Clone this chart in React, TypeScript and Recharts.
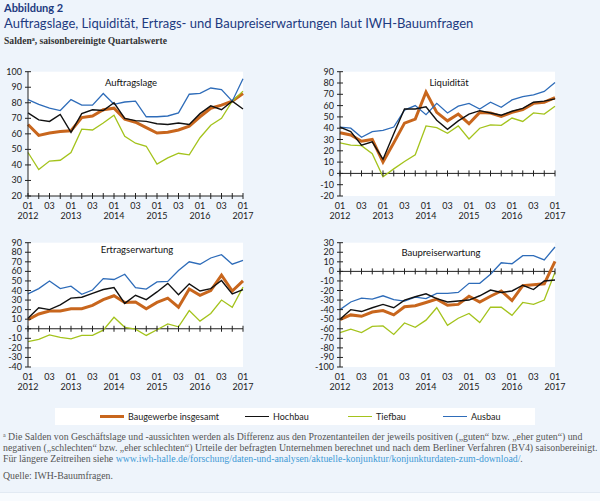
import React from 'react';
import {
  LineChart,
  Line,
  XAxis,
  YAxis,
  CartesianGrid,
  ReferenceLine,
  ReferenceDot,
} from 'recharts';

// Quartale 2012 Q1 bis 2017 Q1
const quarters = [
  '2012-1', '2012-2', '2012-3', '2012-4',
  '2013-1', '2013-2', '2013-3', '2013-4',
  '2014-1', '2014-2', '2014-3', '2014-4',
  '2015-1', '2015-2', '2015-3', '2015-4',
  '2016-1', '2016-2', '2016-3', '2016-4',
  '2017-1',
];

// Auftragslage
const auftragBau = [66, 59, 60.5, 61.5, 62, 70.5, 71.5, 75.5, 76.5, 69.5, 67.5, 64, 60.5, 61, 62.5, 65, 71, 76.5, 78.5, 81, 86];
const auftragHoch = [73.5, 69, 68, 72.5, 61, 73, 75.5, 75, 80, 70, 68.5, 68, 66.5, 66, 67, 66, 73, 78, 75.5, 81, 76];
const auftragTief = [48, 37, 42.5, 43, 48, 63, 62.5, 67, 72, 58.5, 54, 52, 40.5, 44.5, 47.5, 46.5, 57.5, 65.5, 70, 81, 87.5];
const auftragAus = [82, 79, 76.5, 75, 82, 78.5, 78.5, 86, 79, 80.5, 81, 71, 71, 71.5, 73.5, 85.5, 86, 89.5, 88.5, 81, 95.5];

// Liquidität
const liquiBau = [36, 34, 28.5, 30, 10, 27, 44.5, 48, 72, 54, 46.5, 52.5, 44, 54, 53.5, 50.5, 54, 56.5, 62, 63, 67];
const liquiHoch = [41, 37, 25, 28, 12.5, 35, 57, 57, 59, 47, 39, 46.5, 52.5, 55.5, 53.5, 51.5, 55, 57.5, 63, 64, 66];
const liquiTief = [27, 25, 24.5, 17.5, -3, 4, 10.5, 16.5, 42, 40.5, 35.5, 42, 30.5, 40, 43, 42.5, 49, 46, 53.5, 52.5, 59.5];
const liquiAus = [41, 40, 32, 37, 38, 41, 56, 60, 52, 62, 53.5, 59.5, 62, 57, 63, 58.5, 65, 68, 69.5, 72.5, 80.5];

// Ertragserwartung
const ertragBau = [9.5, 15.5, 18.5, 18.5, 21, 21, 24.5, 30.5, 34.5, 27.5, 28, 21, 27.5, 32, 22.5, 41.5, 35, 40, 56, 39.5, 50];
const ertragHoch = [11, 22, 20, 25, 32, 33, 37, 41, 43, 26.5, 35, 30.5, 38.5, 47.5, 35.5, 47, 39.5, 42, 50.5, 36.5, 41];
const ertragTief = [-13.5, -11, -6.5, -9, -10.5, -7, -7, -1.5, 12, 1.5, -0.5, -7, -1, 5, 2, 19, 8, 16, 30, 22.5, 43.5];
const ertragAus = [36.5, 42, 50, 42, 44.5, 36, 40.5, 52.5, 51.5, 57, 43, 41.5, 49, 49.5, 61, 70, 67.5, 74, 77.5, 67.5, 71.5];

// Baupreiserwartung
const preisBau = [-50.5, -45.5, -47, -42.5, -41, -45.5, -37, -36, -32.5, -29, -35.5, -34.5, -26, -32, -26, -20.5, -30.5, -15, -14, -13, 10.5];
const preisHoch = [-50, -40, -42, -38, -34.5, -38, -30, -26.5, -23.5, -28.5, -32, -31, -30, -25.5, -19.5, -22, -20.5, -14.5, -19, -10, -9];
const preisTief = [-64, -60.5, -64, -57.5, -57, -66, -54, -58.5, -51, -38, -56.5, -49, -44, -53.5, -37.5, -37.5, -46, -32.5, -34.5, -30, -1];
const preisAus = [-40, -32, -28, -29, -25.5, -29.5, -31, -27, -28.5, -23, -23, -22, -12.5, -12.5, -3, 9, 8, 16.5, 16.5, 12, 25.5];

const auftragTicks = [20, 30, 40, 50, 60, 70, 80, 90, 100];
const liquiTicks = [-20, -10, 0, 10, 20, 30, 40, 50, 60, 70, 80, 90];
const ertragTicks = [-40, -30, -20, -10, 0, 10, 20, 30, 40, 50, 60, 70, 80, 90];
const preisTicks = [-100, -90, -80, -70, -60, -50, -40, -30, -20, -10, 0, 10, 20, 30];

const seriesNames = ['Baugewerbe insgesamt', 'Hochbau', 'Tiefbau', 'Ausbau'];

const ORANGE = '#C8661D';
const BLACK = '#111111';
const GREEN = '#A4C31C';
const BLUE = '#2E6CB9';
const AXIS = '#222222';
const NAVY = '#1D3A80';
const SANS = 'Lato, "DejaVu Sans", sans-serif';
const SERIF = '"Liberation Serif", "DejaVu Serif", serif';

function YTick({ x, y, payload }: any) {
  return (
    <g>
      <line x1={x - 3} x2={x + 3} y1={y} y2={y} stroke={AXIS} strokeWidth={1} />
      <text x={x - 6} y={y} dy={3} textAnchor="end" fontSize={9} fill={AXIS} fontFamily={SANS}>
        {payload.value}
      </text>
    </g>
  );
}

function XTick({ x, y, payload }: any) {
  const [year, q] = String(payload.value).split('-');
  if (q === '2' || q === '4') return <g />;
  return (
    <g fontFamily={SANS} fontSize={9} fill={AXIS}>
      <text x={x} y={y + 13} textAnchor="middle">{q === '1' ? '01' : '03'}</text>
      {q === '1' && <text x={x} y={y + 23} textAnchor="middle">{year}</text>}
    </g>
  );
}

function TickMark(props: any) {
  const { cx, cy } = props;
  return <line x1={cx} x2={cx} y1={cy - 3} y2={cy + 3} stroke={AXIS} strokeWidth={1} />;
}

interface PanelProps {
  title: string;
  bau: number[];
  hoch: number[];
  tief: number[];
  aus: number[];
  ticks: number[];
  base: number;
  left: number;
  top: number;
  yWidth: number;
  titleX: number;
  titleY: number;
}

function Panel({ title, bau, hoch, tief, aus, ticks, base, left, top, yWidth, titleX, titleY }: PanelProps) {
  const data = quarters.map((q, i) => ({ q, bau: bau[i], hoch: hoch[i], tief: tief[i], aus: aus[i] }));
  const width = yWidth + 215 + 15;
  return (
    <>
      <div style={{ position: 'absolute', left, top, width, height: 170 }}>
        <LineChart width={width} height={170} data={data} margin={{ top: 11.7, right: 15, bottom: 0, left: 0 }}>
          <CartesianGrid horizontal={false} vertical={false} fill="#ffffff" />
          <XAxis
            dataKey="q"
            interval={0}
            height={34}
            axisLine={false}
            tickLine={false}
            tickSize={0}
            tickMargin={0}
            tick={<XTick />}
          />
          <YAxis
            width={yWidth}
            domain={[ticks[0], ticks[ticks.length - 1]]}
            ticks={ticks}
            interval={0}
            axisLine={{ stroke: AXIS, strokeWidth: 1 }}
            tickLine={false}
            tickSize={0}
            tickMargin={0}
            tick={<YTick />}
          />
          <ReferenceLine y={base} stroke={AXIS} strokeWidth={1} />
          {quarters.map((q) => (
            <ReferenceDot key={q} x={q} y={base} r={0} shape={<TickMark />} />
          ))}
          <Line dataKey="bau" name={seriesNames[0]} stroke={ORANGE} strokeWidth={3} dot={false} isAnimationActive={false} />
          <Line dataKey="tief" name={seriesNames[2]} stroke={GREEN} strokeWidth={1.3} dot={false} isAnimationActive={false} />
          <Line dataKey="aus" name={seriesNames[3]} stroke={BLUE} strokeWidth={1.3} dot={false} isAnimationActive={false} />
          <Line dataKey="hoch" name={seriesNames[1]} stroke={BLACK} strokeWidth={1.4} dot={false} isAnimationActive={false} />
        </LineChart>
      </div>
      <div
        style={{
          position: 'absolute',
          left: titleX - 60,
          top: titleY - 7,
          width: 120,
          textAlign: 'center',
          fontFamily: SANS,
          fontSize: 9.5,
          color: '#111',
          lineHeight: '14px',
        }}
      >
        {title}
      </div>
    </>
  );
}

function LegendItem({ color, label, left, thick }: { color: string; label: string; left: number; thick?: boolean }) {
  return (
    <div style={{ position: 'absolute', left, top: 0, height: 17, display: 'flex', alignItems: 'center' }}>
      <span style={{ display: 'inline-block', width: 24, height: thick ? 3 : 1.3, background: color, marginRight: 4 }} />
      <span style={{ fontFamily: SANS, fontSize: 9, color: '#222' }}>{label}</span>
    </div>
  );
}

const footStyle: React.CSSProperties = {
  position: 'absolute',
  left: 3,
  fontFamily: SERIF,
  fontSize: 9.8,
  color: '#555',
  whiteSpace: 'nowrap',
  lineHeight: '11px',
  height: 11,
};

const supStyle: React.CSSProperties = { fontSize: 6, position: 'relative', top: -3 };

export default function App() {
  return (
    <div style={{ position: 'absolute', left: 0, top: 0, width: 600, height: 501, background: '#EEF4FB', overflow: 'hidden' }}>
      <div style={{ position: 'absolute', left: 4, top: 1, fontFamily: SANS, fontWeight: 700, fontSize: 11, color: NAVY }}>
        Abbildung 2
      </div>
      <div style={{ position: 'absolute', left: 4, top: 15, fontFamily: SANS, fontSize: 13, color: NAVY, whiteSpace: 'nowrap' }}>
        Auftragslage, Liquidität, Ertrags- und Baupreiserwartungen laut IWH-Bauumfragen
      </div>
      <div style={{ position: 'absolute', left: 4, top: 35, fontFamily: SERIF, fontSize: 9.6, fontWeight: 700, color: '#333', whiteSpace: 'nowrap', lineHeight: '12px' }}>
        Salden<span style={supStyle}>a</span>, saisonbereinigte Quartalswerte
      </div>

      <Panel title="Auftragslage" bau={auftragBau} hoch={auftragHoch} tief={auftragTief} aus={auftragAus}
        ticks={auftragTicks} base={20} left={0} top={60} yWidth={28} titleX={131} titleY={83} />
      <Panel title="Liquidität" bau={liquiBau} hoch={liquiHoch} tief={liquiTief} aus={liquiAus}
        ticks={liquiTicks} base={0} left={300} top={60} yWidth={40} titleX={449} titleY={83} />
      <Panel title="Ertragserwartung" bau={ertragBau} hoch={ertragHoch} tief={ertragTief} aus={ertragAus}
        ticks={ertragTicks} base={0} left={0} top={230.6} yWidth={28} titleX={137} titleY={250} />
      <Panel title="Baupreiserwartung" bau={preisBau} hoch={preisHoch} tief={preisTief} aus={preisAus}
        ticks={preisTicks} base={0} left={300} top={230.6} yWidth={40} titleX={441} titleY={252.5} />

      <div style={{ position: 'absolute', left: 55, top: 408, width: 480, height: 17, background: '#ffffff' }}>
        <LegendItem color={ORANGE} label={seriesNames[0]} left={45} thick />
        <LegendItem color={BLACK} label={seriesNames[1]} left={190} />
        <LegendItem color={GREEN} label={seriesNames[2]} left={293} />
        <LegendItem color={BLUE} label={seriesNames[3]} left={388} />
      </div>

      <div style={{ ...footStyle, top: 431 }}>
        <span style={supStyle}>a</span> Die Salden von Geschäftslage und -aussichten werden als Differenz aus den Prozentanteilen der jeweils positiven („guten“ bzw. „eher guten“) und
      </div>
      <div style={{ ...footStyle, top: 442 }}>
        negativen („schlechten“ bzw. „eher schlechten“) Urteile der befragten Unternehmen berechnet und nach dem Berliner Verfahren (BV4) saisonbereinigt.
      </div>
      <div style={{ ...footStyle, top: 453 }}>
        Für längere Zeitreihen siehe <span style={{ color: '#3E9AD6' }}>www.iwh-halle.de/forschung/daten-und-analysen/aktuelle-konjunktur/konjunkturdaten-zum-download/</span>.
      </div>
      <div style={{ ...footStyle, top: 470 }}>Quelle: IWH-Bauumfragen.</div>

      <div style={{ position: 'absolute', left: 0, top: 492, width: 600, height: 9, background: '#F8FBFE', borderTop: '1px solid #E2EAF3' }} />
    </div>
  );
}
